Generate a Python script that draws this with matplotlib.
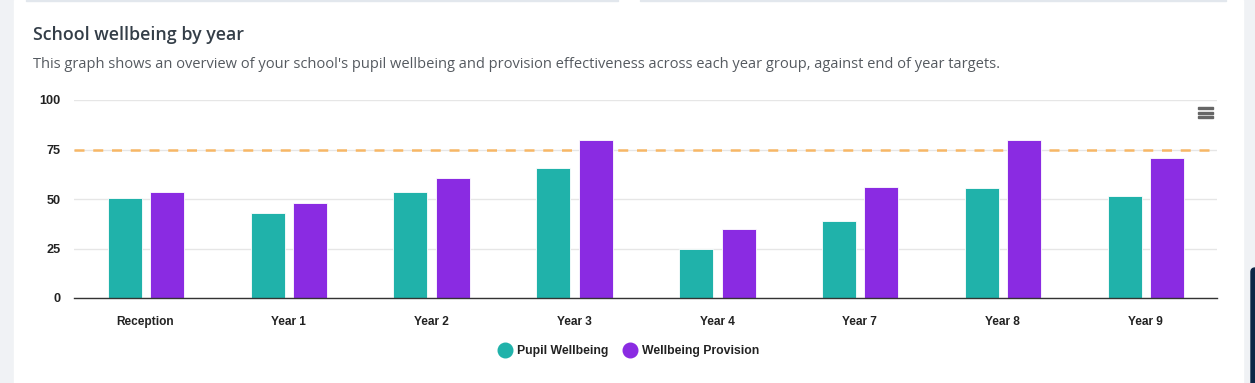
import matplotlib
matplotlib.use("Agg")
import matplotlib.pyplot as plt
import numpy as np
from matplotlib.patches import FancyBboxPatch, Rectangle

categories = ["Reception", "Year 1", "Year 2", "Year 3", "Year 4", "Year 7", "Year 8", "Year 9"]
pupil_wellbeing = [50.5, 43, 53.5, 65.5, 24.5, 39, 55.5, 51.5]
wellbeing_provision = [53.5, 48, 60.5, 80, 35, 56, 80, 70.5]
target = 75
y_ticks = [0, 25, 50, 75, 100]

W, H = 1255, 383
fig = plt.figure(figsize=(W / 100, H / 100), dpi=100)
fig.patch.set_facecolor("#f0f2f5")

def px(x, y, w, h):
    return [x / W, 1 - (y + h) / H, w / W, h / H]

# white card
bg = fig.add_axes([0, 0, 1, 1], zorder=0)
bg.set_xlim(0, W); bg.set_ylim(H, 0); bg.axis("off")
bg.add_patch(Rectangle((14, 0), 1229, H, color="white"))
bg.add_patch(Rectangle((26, 0), 592, 1.2, color="#e2e7ed"))
bg.add_patch(Rectangle((640, 0), 586, 1.2, color="#e2e7ed"))
bg.add_patch(FancyBboxPatch((1251, 268), 20, 140, boxstyle="round,pad=0,rounding_size=4", color="#0d2747"))
# hamburger icon
for yy in (108, 112.5, 117):
    bg.add_patch(Rectangle((1198, yy - 1), 15, 2.0, color="#666666"))

fig.text(33 / W, 1 - 35 / H, "School wellbeing by year", fontsize=12.8, fontweight="semibold",
         color="#343e48", family="Open Sans", va="center", ha="left")
fig.text(33 / W, 1 - 64 / H,
         "This graph shows an overview of your school's pupil wellbeing and provision effectiveness across each year group, against end of year targets.",
         fontsize=10.5, color="#555a60", family="Open Sans", va="center", ha="left")

ax = fig.add_axes(px(74, 100, 1143, 198), zorder=1)
ax.set_facecolor("none")
x = np.arange(len(categories))
bw = 0.238
ax.bar(x - 0.145, pupil_wellbeing, bw, color="#20b2aa", edgecolor="white", linewidth=0.6, zorder=3, label="Pupil Wellbeing")
ax.bar(x + 0.151, wellbeing_provision, bw, color="#8a2be2", edgecolor="white", linewidth=0.6, zorder=3, label="Wellbeing Provision")
ax.axhline(target, color="#f7b766", lw=1.8, ls=(0, (4, 3.5)), zorder=2)

ax.set_xlim(-0.5, len(categories) - 0.5)
ax.set_ylim(0, 100)
ax.set_yticks(y_ticks)
ax.yaxis.grid(True, color="#e6e6e6", lw=1, zorder=1)
ax.set_axisbelow(True)
for s in ["top", "right", "left"]:
    ax.spines[s].set_visible(False)
ax.spines["bottom"].set_color("#333333")
ax.spines["bottom"].set_linewidth(1)
ax.spines["bottom"].set_zorder(4)
ax.tick_params(axis="both", length=0, labelcolor="#222222")
ax.tick_params(axis="y", pad=9.5, labelsize=9.2)
ax.tick_params(axis="x", pad=13, labelsize=8.6)
ax.set_xticks(x)
ax.set_xticklabels(categories)
for lab in ax.get_xticklabels() + ax.get_yticklabels():
    lab.set_fontweight("bold")
    lab.set_family("Liberation Sans")

leg = fig.legend(handles=[
    plt.Line2D([], [], marker="o", ls="", color="#20b2aa", markersize=10.5, label="Pupil Wellbeing"),
    plt.Line2D([], [], marker="o", ls="", color="#8a2be2", markersize=10.5, label="Wellbeing Provision")],
    loc="center", bbox_to_anchor=(629 / W, 1 - 351 / H), ncol=2, frameon=False,
    prop={"family": "Liberation Sans", "weight": "bold", "size": 8.8},
    handletextpad=0.5, columnspacing=1.3, handlelength=1.0)
for t in leg.get_texts():
    t.set_color("#222222")

fig.savefig("out.png", dpi=100, facecolor=fig.get_facecolor())
